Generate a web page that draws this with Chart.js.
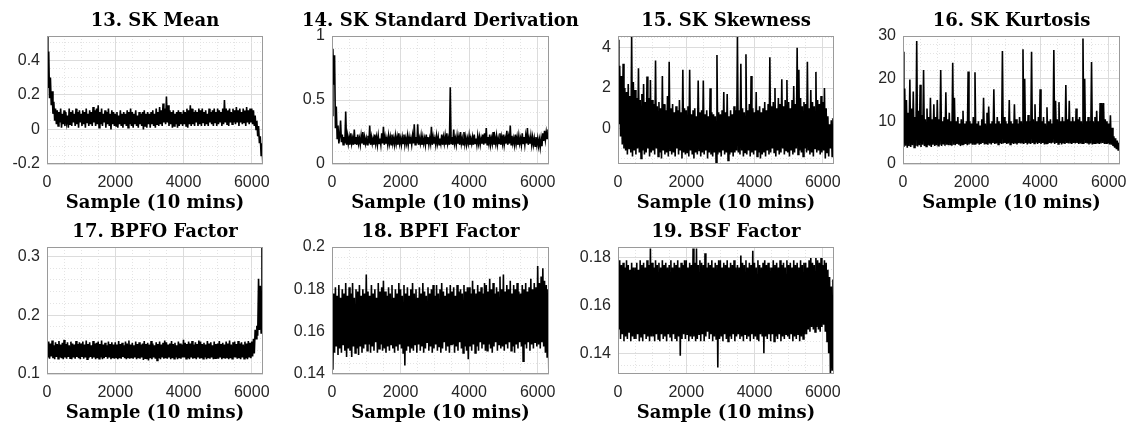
<!DOCTYPE html>
<html>
<head>
<meta charset="utf-8">
<script src="https://cdn.jsdelivr.net/npm/chart.js@4.4.1/dist/chart.umd.min.js"></script>
<style>
  html, body { margin: 0; padding: 0; background: #fff; width: 1134px; height: 426px; overflow: hidden; }
  canvas { position: absolute; }
</style>
</head>
<body>
<canvas id="c13"></canvas>
<canvas id="c14"></canvas>
<canvas id="c15"></canvas>
<canvas id="c16"></canvas>
<canvas id="c17"></canvas>
<canvas id="c18"></canvas>
<canvas id="c19"></canvas>
<script>
// one value read every 25 records (10 mins each), one row = 500 records
const SAMPLE_STEP = 25;
const X_MAX = 6330;
const xTickLabels = [0, 2000, 4000, 6000];

// 13. SK Mean
const skMean = [
  0.54, 0.24, 0.45, 0.18, 0.30, 0.14, 0.22, 0.09, 0.16, 0.05, 0.12, 0.03, 0.11, 0.02, 0.10, 0.04, 0.12, 0.01, 0.09, 0.03,
  0.11, 0.02, 0.10, 0.04, 0.08, 0.01, 0.12, 0.03, 0.10, 0.02, 0.11, 0.04, 0.09, 0.02, 0.12, 0.03, 0.10, 0.01, 0.11, 0.04,
  0.09, 0.02, 0.11, 0.03, 0.10, 0.01, 0.12, 0.04, 0.09, 0.02, 0.11, 0.03, 0.10, 0.02, 0.13, 0.04, 0.11, 0.02, 0.12, 0.03,
  0.14, 0.01, 0.10, 0.03, 0.12, 0.02, 0.09, 0.04, 0.11, 0.01, 0.10, 0.03, 0.12, 0.02, 0.09, 0.00, 0.11, 0.03, 0.10, 0.02,
  0.09, 0.02, 0.10, 0.01, 0.08, 0.03, 0.11, 0.02, 0.09, 0.01, 0.10, 0.03, 0.09, 0.02, 0.11, 0.01, 0.10, 0.03, 0.12, 0.02,
  0.10, 0.01, 0.09, 0.03, 0.11, 0.02, 0.08, 0.01, 0.10, 0.03, 0.09, 0.02, 0.10, 0.00, 0.11, 0.02, 0.09, 0.01, 0.10, 0.03,
  0.09, 0.01, 0.10, 0.03, 0.11, 0.02, 0.09, 0.01, 0.12, 0.03, 0.10, 0.02, 0.13, 0.03, 0.11, 0.02, 0.15, 0.04, 0.12, 0.03,
  0.19, 0.04, 0.14, 0.02, 0.11, 0.03, 0.10, 0.01, 0.11, 0.02, 0.09, 0.03, 0.10, 0.01, 0.11, 0.02, 0.10, 0.03, 0.09, 0.02,
  0.11, 0.03, 0.10, 0.02, 0.12, 0.01, 0.11, 0.03, 0.14, 0.02, 0.12, 0.03, 0.10, 0.02, 0.11, 0.04, 0.10, 0.02, 0.12, 0.03,
  0.11, 0.02, 0.12, 0.04, 0.10, 0.02, 0.11, 0.03, 0.09, 0.02, 0.12, 0.04, 0.10, 0.03, 0.11, 0.02, 0.12, 0.04, 0.10, 0.02,
  0.12, 0.03, 0.11, 0.04, 0.10, 0.02, 0.12, 0.03, 0.17, 0.04, 0.12, 0.03, 0.11, 0.02, 0.12, 0.04, 0.10, 0.03, 0.12, 0.04,
  0.11, 0.03, 0.13, 0.04, 0.11, 0.02, 0.12, 0.04, 0.10, 0.03, 0.12, 0.04, 0.11, 0.02, 0.13, 0.04, 0.11, 0.03, 0.12, 0.04,
  0.12, 0.03, 0.11, 0.02, 0.08, 0.00, 0.05, -0.04, 0.02, -0.08, -0.04, -0.15, -0.08, -0.20
];

// 14. SK Standard Derivation
const skStd = [
  0.38, 0.90, 0.62, 0.85, 0.28, 0.45, 0.20, 0.30, 0.16, 0.22, 0.34, 0.17, 0.23, 0.15, 0.21, 0.16, 0.41, 0.15, 0.22, 0.16,
  0.21, 0.15, 0.24, 0.16, 0.20, 0.15, 0.27, 0.16, 0.21, 0.15, 0.23, 0.16, 0.20, 0.15, 0.22, 0.16, 0.25, 0.15, 0.21, 0.16,
  0.20, 0.15, 0.22, 0.16, 0.30, 0.15, 0.21, 0.16, 0.20, 0.15, 0.23, 0.16, 0.21, 0.15, 0.22, 0.16, 0.20, 0.15, 0.24, 0.16,
  0.29, 0.15, 0.21, 0.16, 0.20, 0.15, 0.22, 0.16, 0.21, 0.15, 0.23, 0.16, 0.20, 0.15, 0.22, 0.16, 0.21, 0.15, 0.24, 0.16,
  0.20, 0.15, 0.21, 0.16, 0.23, 0.15, 0.20, 0.16, 0.22, 0.15, 0.21, 0.16, 0.20, 0.15, 0.22, 0.16, 0.31, 0.15, 0.21, 0.16,
  0.31, 0.15, 0.20, 0.16, 0.22, 0.15, 0.21, 0.16, 0.20, 0.15, 0.23, 0.16, 0.21, 0.15, 0.20, 0.16, 0.29, 0.15, 0.21, 0.16,
  0.20, 0.15, 0.22, 0.16, 0.21, 0.15, 0.20, 0.16, 0.23, 0.15, 0.21, 0.16, 0.22, 0.15, 0.24, 0.16, 0.20, 0.15, 0.60, 0.16,
  0.21, 0.15, 0.27, 0.16, 0.20, 0.15, 0.22, 0.16, 0.21, 0.15, 0.25, 0.16, 0.20, 0.15, 0.25, 0.16, 0.21, 0.15, 0.20, 0.16,
  0.22, 0.15, 0.20, 0.16, 0.21, 0.15, 0.23, 0.16, 0.20, 0.15, 0.22, 0.16, 0.21, 0.15, 0.20, 0.16, 0.23, 0.15, 0.24, 0.16,
  0.28, 0.15, 0.21, 0.16, 0.23, 0.15, 0.20, 0.16, 0.25, 0.15, 0.21, 0.16, 0.22, 0.15, 0.20, 0.16, 0.24, 0.15, 0.21, 0.16,
  0.23, 0.15, 0.20, 0.16, 0.26, 0.15, 0.21, 0.16, 0.30, 0.15, 0.22, 0.16, 0.20, 0.15, 0.23, 0.16, 0.21, 0.15, 0.22, 0.16,
  0.20, 0.15, 0.24, 0.16, 0.21, 0.15, 0.22, 0.16, 0.28, 0.15, 0.20, 0.16, 0.22, 0.15, 0.21, 0.15, 0.20, 0.14, 0.21, 0.15,
  0.20, 0.14, 0.19, 0.13, 0.20, 0.14, 0.24, 0.18, 0.26, 0.19, 0.25, 0.20, 0.27, 0.22
];

// 15. SK Skewness
const skSkew = [
  4.40, 0.20, 3.10, -0.40, 2.60, -0.80, 3.20, -1.00, 2.00, -1.10, 1.80, -1.30, 2.20, -1.00, 1.60, -1.20, 4.55, -1.40, 2.30, -1.10,
  1.90, -1.30, 1.50, -1.00, 2.98, -1.20, 1.40, -1.50, 1.70, -1.10, 2.20, -1.30, 1.30, -1.20, 2.57, -1.00, 1.50, -1.40, 2.40, -1.20,
  1.40, -1.10, 1.20, -1.30, 3.36, -1.00, 1.10, -1.40, 1.30, -1.20, 1.00, -1.50, 2.60, -1.10, 1.20, -1.30, 0.90, -1.20, 1.60, -1.40,
  3.30, -1.10, 1.00, -1.30, 1.20, -1.20, 0.80, -1.40, 1.10, -1.00, 0.90, -1.30, 1.40, -1.10, 0.80, -1.50, 2.90, -1.20, 1.00, -1.30,
  0.90, -1.20, 1.10, -1.40, 2.90, -1.10, 0.70, -1.30, 0.90, -1.50, 1.00, -1.20, 0.60, -1.30, 2.37, -1.10, 0.80, -1.40, 0.90, -1.20,
  2.37, -1.30, 0.70, -1.10, 0.90, -1.50, 0.60, -1.20, 1.99, -1.30, 0.80, -1.40, 0.70, -1.20, 0.60, -1.77, 3.64, -1.30, 0.80, -1.20,
  0.70, -1.40, 0.90, -1.10, 1.80, -1.30, 0.80, -1.20, 1.70, -1.60, 0.60, -1.30, 0.90, -1.20, 0.70, -1.40, 1.10, -1.20, 0.90, -1.10,
  4.55, -1.20, 0.90, -1.30, 3.20, -1.10, 1.00, -1.40, 0.80, -1.20, 3.68, -1.30, 0.90, -1.10, 1.20, -1.40, 2.60, -1.20, 1.00, -1.30,
  0.80, -1.10, 1.80, -1.40, 0.90, -1.20, 1.10, -1.50, 0.80, -1.30, 1.00, -1.20, 1.30, -1.40, 0.90, -1.10, 1.20, -1.30, 3.53, -1.20,
  1.10, -1.00, 1.30, -1.20, 2.00, -1.40, 1.00, -1.10, 1.50, -1.30, 1.20, -1.20, 2.43, -1.00, 1.10, -1.30, 1.40, -1.10, 2.40, -1.20,
  1.30, -1.40, 1.00, -1.10, 1.40, -1.30, 2.10, -1.20, 1.20, -1.00, 4.00, -1.30, 2.90, -1.10, 1.50, -1.20, 1.10, -1.40, 1.30, -1.00,
  1.20, -1.20, 3.30, -1.10, 1.00, -1.30, 1.90, -1.20, 1.30, -1.40, 1.10, -1.00, 2.80, -1.20, 1.40, -1.10, 1.20, -1.30, 1.60, -1.20,
  1.30, -1.10, 2.00, -1.50, 1.00, -1.20, 0.60, -1.40, 0.20, -1.00, 0.40, -1.40, 0.50, -0.60
];

// 16. SK Kurtosis
const skKurt = [
  26.3, 4.0, 17.7, 4.3, 15.0, 3.8, 12.0, 4.2, 19.8, 4.0, 13.0, 4.4, 17.0, 3.9, 11.0, 4.3, 28.8, 4.1, 12.5, 4.4,
  18.6, 4.0, 11.5, 4.5, 22.0, 4.2, 10.5, 4.1, 13.0, 4.4, 11.0, 4.3, 15.5, 4.0, 10.5, 4.5, 14.0, 4.2, 11.0, 4.4,
  15.0, 4.3, 10.5, 4.5, 22.0, 4.2, 10.0, 4.6, 11.0, 4.3, 16.8, 4.5, 10.5, 4.4, 12.0, 4.6, 10.0, 4.3, 23.7, 4.5,
  15.5, 4.4, 10.0, 4.7, 11.0, 4.5, 9.5, 4.2, 10.5, 4.6, 12.5, 4.5, 9.5, 4.7, 10.0, 4.4, 21.7, 4.6, 10.0, 4.8,
  9.5, 4.5, 11.0, 4.7, 21.5, 4.6, 9.5, 4.8, 10.0, 4.5, 9.0, 4.7, 10.5, 4.9, 15.5, 4.6, 9.5, 4.8, 12.0, 4.5,
  13.5, 4.8, 9.5, 4.6, 10.0, 4.9, 17.5, 4.7, 9.5, 4.8, 11.0, 4.6, 10.0, 4.9, 9.5, 4.7, 26.5, 4.8, 11.0, 4.9,
  10.0, 4.7, 9.5, 4.8, 15.0, 4.6, 10.0, 4.9, 9.5, 4.7, 14.0, 4.8, 10.5, 4.6, 9.5, 4.9, 11.0, 4.8, 10.0, 5.0,
  26.9, 4.7, 20.0, 4.9, 10.0, 4.6, 11.5, 4.8, 10.0, 4.7, 26.3, 4.9, 10.5, 4.8, 14.0, 5.0, 10.0, 4.7, 11.0, 4.9,
  17.5, 4.7, 10.0, 4.9, 11.0, 4.6, 9.5, 4.8, 13.3, 4.7, 10.0, 4.9, 10.5, 4.8, 9.5, 5.0, 26.7, 4.7, 14.8, 4.9,
  10.5, 4.7, 14.5, 4.9, 10.0, 4.6, 11.0, 4.8, 10.0, 4.7, 18.5, 4.9, 10.5, 4.8, 14.8, 5.0, 10.0, 4.7, 11.0, 4.9,
  10.0, 4.8, 13.0, 4.9, 10.5, 4.7, 11.0, 4.8, 10.0, 4.9, 29.4, 4.7, 20.0, 4.9, 10.0, 4.8, 11.0, 4.6, 10.0, 4.8,
  23.9, 4.6, 10.0, 4.9, 11.0, 4.7, 12.5, 4.8, 10.0, 4.7, 14.3, 4.8, 14.3, 4.9, 14.3, 4.7, 10.5, 4.9, 10.0, 4.8,
  9.5, 4.6, 11.4, 4.5, 8.5, 4.2, 6.5, 3.8, 6.0, 3.5, 5.5, 3.3, 5.0, 3.6
];

// 17. BPFO Factor
const bpfo = [
  0.150, 0.128, 0.155, 0.126, 0.152, 0.130, 0.157, 0.127, 0.149, 0.125, 0.154, 0.129, 0.151, 0.126, 0.156, 0.128, 0.150, 0.127, 0.153, 0.125,
  0.158, 0.128, 0.151, 0.126, 0.154, 0.129, 0.149, 0.127, 0.155, 0.125, 0.152, 0.128, 0.150, 0.126, 0.156, 0.129, 0.151, 0.127, 0.154, 0.125,
  0.152, 0.129, 0.155, 0.126, 0.150, 0.128, 0.157, 0.125, 0.151, 0.127, 0.154, 0.129, 0.149, 0.126, 0.156, 0.128, 0.152, 0.125, 0.153, 0.127,
  0.155, 0.126, 0.151, 0.128, 0.157, 0.125, 0.150, 0.127, 0.153, 0.129, 0.149, 0.126, 0.155, 0.128, 0.151, 0.125, 0.154, 0.127, 0.150, 0.126,
  0.154, 0.128, 0.150, 0.125, 0.156, 0.127, 0.151, 0.126, 0.153, 0.129, 0.149, 0.127, 0.155, 0.125, 0.152, 0.128, 0.157, 0.126, 0.150, 0.127,
  0.153, 0.126, 0.149, 0.128, 0.155, 0.125, 0.151, 0.127, 0.154, 0.126, 0.150, 0.128, 0.152, 0.124, 0.156, 0.127, 0.151, 0.125, 0.153, 0.123,
  0.150, 0.127, 0.156, 0.125, 0.152, 0.128, 0.149, 0.126, 0.154, 0.123, 0.151, 0.127, 0.155, 0.125, 0.150, 0.128, 0.153, 0.126, 0.157, 0.127,
  0.154, 0.126, 0.150, 0.128, 0.152, 0.125, 0.156, 0.127, 0.151, 0.126, 0.153, 0.128, 0.149, 0.125, 0.155, 0.127, 0.152, 0.126, 0.150, 0.128,
  0.158, 0.128, 0.153, 0.126, 0.151, 0.127, 0.155, 0.125, 0.152, 0.128, 0.156, 0.126, 0.150, 0.127, 0.154, 0.125, 0.151, 0.128, 0.157, 0.126,
  0.155, 0.127, 0.151, 0.126, 0.153, 0.128, 0.150, 0.125, 0.156, 0.127, 0.152, 0.126, 0.154, 0.128, 0.149, 0.125, 0.155, 0.127, 0.151, 0.126,
  0.152, 0.126, 0.156, 0.128, 0.151, 0.125, 0.153, 0.127, 0.150, 0.126, 0.155, 0.128, 0.152, 0.125, 0.157, 0.127, 0.150, 0.126, 0.154, 0.128,
  0.155, 0.128, 0.151, 0.126, 0.156, 0.127, 0.152, 0.125, 0.154, 0.128, 0.150, 0.126, 0.155, 0.127, 0.152, 0.125, 0.156, 0.128, 0.153, 0.127,
  0.155, 0.130, 0.160, 0.135, 0.175, 0.160, 0.182, 0.165, 0.262, 0.175, 0.250, 0.170, 0.316, 0.200
];

// 18. BPFI Factor
const bpfi = [
  0.175, 0.142, 0.178, 0.150, 0.181, 0.153, 0.177, 0.149, 0.182, 0.152, 0.176, 0.150, 0.180, 0.154, 0.178, 0.151, 0.183, 0.148, 0.177, 0.152,
  0.181, 0.151, 0.178, 0.148, 0.183, 0.153, 0.176, 0.150, 0.180, 0.152, 0.179, 0.149, 0.182, 0.153, 0.177, 0.150, 0.180, 0.152, 0.178, 0.154,
  0.187, 0.151, 0.179, 0.154, 0.177, 0.150, 0.182, 0.153, 0.178, 0.151, 0.180, 0.155, 0.176, 0.150, 0.183, 0.152, 0.179, 0.154, 0.181, 0.151,
  0.184, 0.152, 0.179, 0.150, 0.177, 0.153, 0.181, 0.151, 0.178, 0.154, 0.182, 0.152, 0.176, 0.150, 0.180, 0.153, 0.178, 0.151, 0.183, 0.154,
  0.180, 0.152, 0.177, 0.150, 0.182, 0.144, 0.178, 0.151, 0.181, 0.153, 0.177, 0.150, 0.180, 0.152, 0.183, 0.151, 0.178, 0.154, 0.180, 0.150,
  0.176, 0.154, 0.181, 0.151, 0.178, 0.153, 0.183, 0.150, 0.179, 0.152, 0.177, 0.155, 0.181, 0.151, 0.178, 0.153, 0.180, 0.150, 0.182, 0.152,
  0.177, 0.154, 0.182, 0.151, 0.178, 0.153, 0.180, 0.150, 0.183, 0.152, 0.179, 0.155, 0.177, 0.151, 0.181, 0.153, 0.178, 0.150, 0.182, 0.154,
  0.179, 0.154, 0.181, 0.150, 0.177, 0.153, 0.182, 0.151, 0.179, 0.155, 0.180, 0.152, 0.178, 0.150, 0.182, 0.153, 0.179, 0.151, 0.181, 0.147,
  0.181, 0.153, 0.178, 0.151, 0.184, 0.154, 0.180, 0.150, 0.178, 0.153, 0.182, 0.151, 0.179, 0.155, 0.181, 0.152, 0.178, 0.154, 0.183, 0.151,
  0.182, 0.151, 0.179, 0.154, 0.185, 0.152, 0.180, 0.150, 0.183, 0.153, 0.178, 0.155, 0.181, 0.151, 0.179, 0.154, 0.186, 0.152, 0.180, 0.153,
  0.187, 0.151, 0.179, 0.154, 0.182, 0.152, 0.180, 0.155, 0.184, 0.151, 0.178, 0.153, 0.182, 0.150, 0.180, 0.154, 0.183, 0.152, 0.179, 0.155,
  0.178, 0.153, 0.182, 0.146, 0.180, 0.154, 0.183, 0.152, 0.179, 0.155, 0.181, 0.151, 0.185, 0.154, 0.180, 0.152, 0.183, 0.155, 0.181, 0.153,
  0.191, 0.154, 0.183, 0.152, 0.186, 0.155, 0.190, 0.153, 0.184, 0.150, 0.182, 0.148, 0.180, 0.140
];

// 19. BSF Factor
const bsf = [
  0.170, 0.150, 0.179, 0.146, 0.177, 0.148, 0.178, 0.145, 0.176, 0.147, 0.179, 0.146, 0.177, 0.149, 0.175, 0.145, 0.178, 0.147, 0.176, 0.146,
  0.176, 0.146, 0.178, 0.148, 0.175, 0.145, 0.179, 0.147, 0.177, 0.145, 0.178, 0.148, 0.176, 0.146, 0.179, 0.147, 0.177, 0.145, 0.184, 0.147,
  0.178, 0.147, 0.176, 0.145, 0.179, 0.148, 0.177, 0.146, 0.178, 0.145, 0.176, 0.148, 0.179, 0.146, 0.177, 0.147, 0.178, 0.145, 0.176, 0.148,
  0.177, 0.147, 0.179, 0.145, 0.176, 0.148, 0.178, 0.146, 0.177, 0.145, 0.179, 0.147, 0.176, 0.139, 0.178, 0.146, 0.177, 0.148, 0.179, 0.146,
  0.179, 0.148, 0.176, 0.145, 0.178, 0.147, 0.177, 0.146, 0.184, 0.147, 0.178, 0.145, 0.184, 0.146, 0.177, 0.148, 0.179, 0.145, 0.178, 0.148,
  0.177, 0.145, 0.182, 0.147, 0.176, 0.149, 0.178, 0.146, 0.177, 0.148, 0.179, 0.145, 0.176, 0.147, 0.178, 0.146, 0.177, 0.134, 0.179, 0.146,
  0.179, 0.147, 0.176, 0.145, 0.178, 0.148, 0.177, 0.146, 0.179, 0.145, 0.176, 0.147, 0.178, 0.146, 0.177, 0.148, 0.179, 0.145, 0.176, 0.147,
  0.177, 0.148, 0.176, 0.146, 0.181, 0.147, 0.178, 0.145, 0.177, 0.148, 0.179, 0.146, 0.176, 0.147, 0.178, 0.145, 0.177, 0.148, 0.183, 0.146,
  0.178, 0.147, 0.176, 0.146, 0.179, 0.145, 0.177, 0.148, 0.176, 0.147, 0.178, 0.140, 0.179, 0.147, 0.177, 0.146, 0.178, 0.148, 0.176, 0.145,
  0.176, 0.148, 0.179, 0.145, 0.177, 0.147, 0.178, 0.146, 0.176, 0.148, 0.179, 0.145, 0.177, 0.147, 0.178, 0.146, 0.176, 0.148, 0.179, 0.147,
  0.177, 0.146, 0.178, 0.148, 0.176, 0.145, 0.179, 0.147, 0.177, 0.146, 0.178, 0.148, 0.176, 0.145, 0.179, 0.147, 0.177, 0.146, 0.178, 0.148,
  0.178, 0.148, 0.176, 0.150, 0.179, 0.149, 0.180, 0.151, 0.178, 0.150, 0.177, 0.149, 0.180, 0.151, 0.179, 0.150, 0.178, 0.149, 0.180, 0.151,
  0.177, 0.152, 0.179, 0.149, 0.178, 0.145, 0.175, 0.140, 0.172, 0.1313, 0.168, 0.133, 0.171, 0.135
];

// layout of the subplots (plot area in page pixels)
const AXIS_W = 47, TITLE_H = 36, XAXIS_H = 50;
const panels = [
  { id: 'c13', title: '13. SK Mean', values: skMean, yMin: -0.2, yMax: 0.54, yStep: 0.05, yMajor: 0.2, left: 47, top: 36, w: 216, h: 128 },
  { id: 'c14', title: '14. SK Standard Derivation', values: skStd, yMin: 0, yMax: 1, yStep: 0.1, yMajor: 0.5, left: 332, top: 36, w: 217, h: 128 },
  { id: 'c15', title: '15. SK Skewness', values: skSkew, yMin: -1.77, yMax: 4.58, yStep: 0.5, yMajor: 2, left: 618, top: 36, w: 216, h: 128 },
  { id: 'c16', title: '16. SK Kurtosis', values: skKurt, yMin: 0, yMax: 30, yStep: 2, yMajor: 10, left: 903, top: 36, w: 217, h: 128 },
  { id: 'c17', title: '17. BPFO Factor', values: bpfo, yMin: 0.1, yMax: 0.316, yStep: 0.02, yMajor: 0.1, left: 47, top: 247, w: 216, h: 127 },
  { id: 'c18', title: '18. BPFI Factor', values: bpfi, yMin: 0.14, yMax: 0.2, yStep: 0.005, yMajor: 0.02, left: 332, top: 247, w: 217, h: 127 },
  { id: 'c19', title: '19. BSF Factor', values: bsf, yMin: 0.1313, yMax: 0.1846, yStep: 0.005, yMajor: 0.02, left: 618, top: 247, w: 216, h: 127 }
];

const MAJOR_GRID = '#dcdcdc';
const MINOR_GRID = '#e4e4e4';
const tickFont = { family: 'Liberation Sans, Arial, sans-serif', size: 16 };
const serifBold = { family: 'DejaVu Serif, serif', size: 18, weight: 'bold' };

const isMajor = (v, m) => Math.abs(v / m - Math.round(v / m)) < 1e-6;
const fmt = v => String(Math.round(v * 1e6) / 1e6);

function gridTicks(min, max, step) {
  const out = [];
  for (let k = Math.ceil(min / step - 1e-9); k * step <= max + 1e-9; k++) {
    out.push({ value: Math.round(k * step * 1e6) / 1e6 });
  }
  return out;
}

// Matlab style box round the axes
const boxPlugin = {
  id: 'box',
  afterDatasetsDraw(chart) {
    const a = chart.chartArea, ctx = chart.ctx;
    ctx.save();
    ctx.strokeStyle = '#9a9a9a';
    ctx.lineWidth = 1;
    ctx.strokeRect(Math.round(a.left) + 0.5, Math.round(a.top) + 0.5,
      Math.round(a.right - a.left) - 1, Math.round(a.bottom - a.top) - 1);
    ctx.restore();
  }
};

panels.forEach(p => {
  const cv = document.getElementById(p.id);
  cv.width = AXIS_W * 2 + p.w;
  cv.height = TITLE_H + p.h + XAXIS_H;
  cv.style.left = (p.left - AXIS_W) + 'px';
  cv.style.top = (p.top - TITLE_H) + 'px';

  new Chart(cv, {
    type: 'line',
    data: {
      datasets: [{
        data: p.values.map((v, i) => ({ x: i * SAMPLE_STEP, y: v })),
        borderColor: '#000',
        borderWidth: 1.6,
        pointRadius: 0,
        tension: 0,
        fill: false
      }]
    },
    options: {
      responsive: false,
      animation: false,
      events: [],
      layout: { padding: 0 },
      scales: {
        x: {
          type: 'linear', min: 0, max: X_MAX,
          afterBuildTicks: s => { s.ticks = gridTicks(0, X_MAX, 500); },
          afterFit: s => { s.height = XAXIS_H; },
          ticks: {
            autoSkip: false, maxRotation: 0, padding: 9, color: '#262626', font: tickFont,
            callback: v => xTickLabels.includes(v) ? fmt(v) : ''
          },
          grid: {
            drawTicks: false,
            color: c => c.tick && isMajor(c.tick.value, 2000) ? MAJOR_GRID : MINOR_GRID
          },
          border: {
            display: false,
            dash: c => c.tick && isMajor(c.tick.value, 2000) ? [] : [1, 2]
          },
          title: { display: true, text: 'Sample (10 mins)', color: '#000', font: serifBold, padding: { top: 0, bottom: 0 } }
        },
        y: {
          type: 'linear', position: 'left', min: p.yMin, max: p.yMax,
          afterBuildTicks: s => { s.ticks = gridTicks(p.yMin, p.yMax, p.yStep); },
          afterFit: s => { s.width = AXIS_W; },
          ticks: {
            autoSkip: false, padding: 7, color: '#262626', font: tickFont,
            callback: v => isMajor(v, p.yMajor) ? fmt(v) : ''
          },
          grid: {
            drawTicks: false,
            color: c => c.tick && isMajor(c.tick.value, p.yMajor) ? MAJOR_GRID : MINOR_GRID
          },
          border: {
            display: false,
            dash: c => c.tick && isMajor(c.tick.value, p.yMajor) ? [] : [1, 2]
          }
        },
        yR: {
          type: 'linear', position: 'right', min: 0, max: 1,
          afterFit: s => { s.width = AXIS_W; },
          ticks: { display: false },
          grid: { display: false },
          border: { display: false }
        }
      },
      plugins: {
        legend: { display: false },
        tooltip: { enabled: false },
        title: {
          display: true, text: p.title, color: '#000', font: serifBold,
          padding: { top: 11, bottom: 3.4 }
        }
      }
    },
    plugins: [boxPlugin]
  });
});
</script>
</body>
</html>
